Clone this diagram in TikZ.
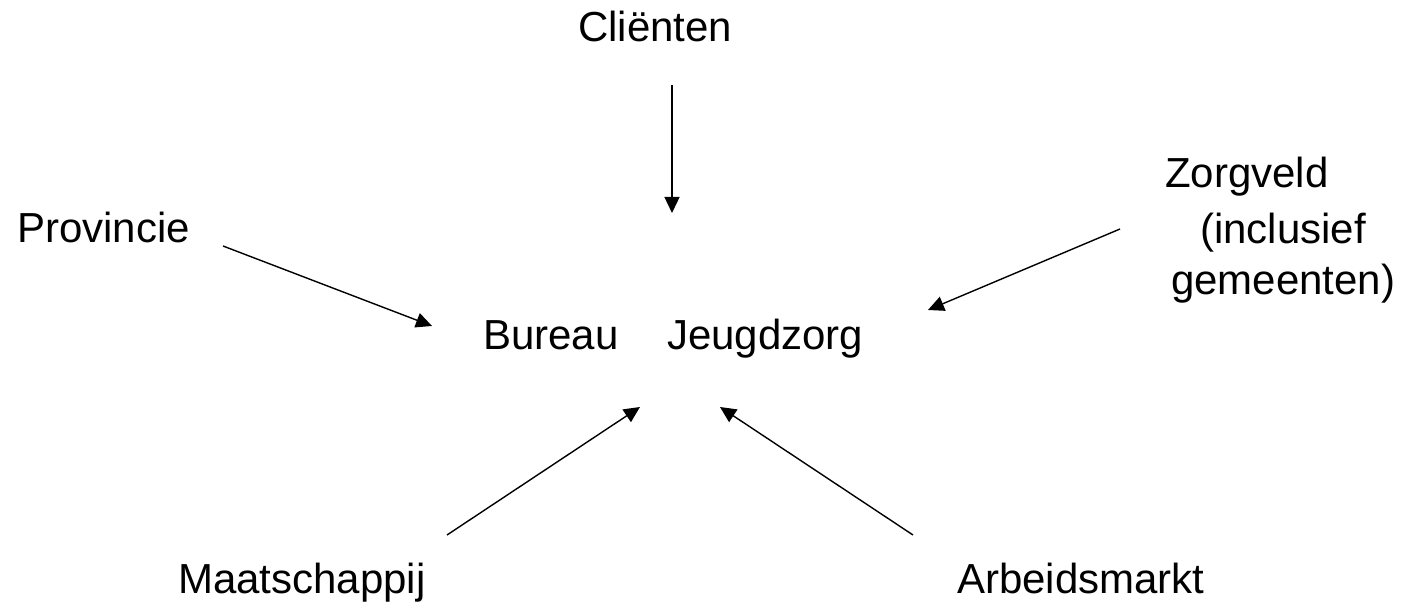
\documentclass[tikz,border=0pt]{standalone}
\usepackage{fontspec}
\setmainfont{Liberation Sans}
\usetikzlibrary{arrows.meta}
\begin{document}
\begin{tikzpicture}[x=1pt,y=1pt,
  lbl/.style={anchor=base west,inner sep=0pt,font=\fontsize{42}{50}\selectfont},
  arr/.style={line width=1.4pt,-{Triangle[length=16pt,width=15pt]}}]
\useasboundingbox (0,0) rectangle (1403,607);
% labels (y = 607 - baseline)
\node[lbl] (clienten) at (578,565) {Cliënten};
\node[lbl] (provincie) at (17,364) {Provincie};
\node[lbl] (zorg1) at (1165,419) {Zorgveld};
\node[lbl] (zorg2) at (1200,363) {(inclusief};
\node[lbl] (zorg3) at (1171,312) {gemeenten)};
\node[lbl] (bureau) at (483,257) {Bureau};
\node[lbl] (jeugd) at (667,257) {Jeugdzorg};
\node[lbl] (maat) at (178,13) {Maatschappij};
\node[lbl] (arbeid) at (957,13) {Arbeidsmarkt};
% arrow ends
\coordinate (c1) at (672,522); \coordinate (c2) at (672,394);
\coordinate (p1) at (223,361); \coordinate (p2) at (432,281);
\coordinate (z1) at (1120,378); \coordinate (z2) at (928,297);
\coordinate (m1) at (447,72); \coordinate (m2) at (640,200);
\coordinate (a1) at (913,72); \coordinate (a2) at (720,200);
\draw[arr] (c1) -- (c2);
\draw[arr] (p1) -- (p2);
\draw[arr] (z1) -- (z2);
\draw[arr] (m1) -- (m2);
\draw[arr] (a1) -- (a2);
\end{tikzpicture}
\end{document}
